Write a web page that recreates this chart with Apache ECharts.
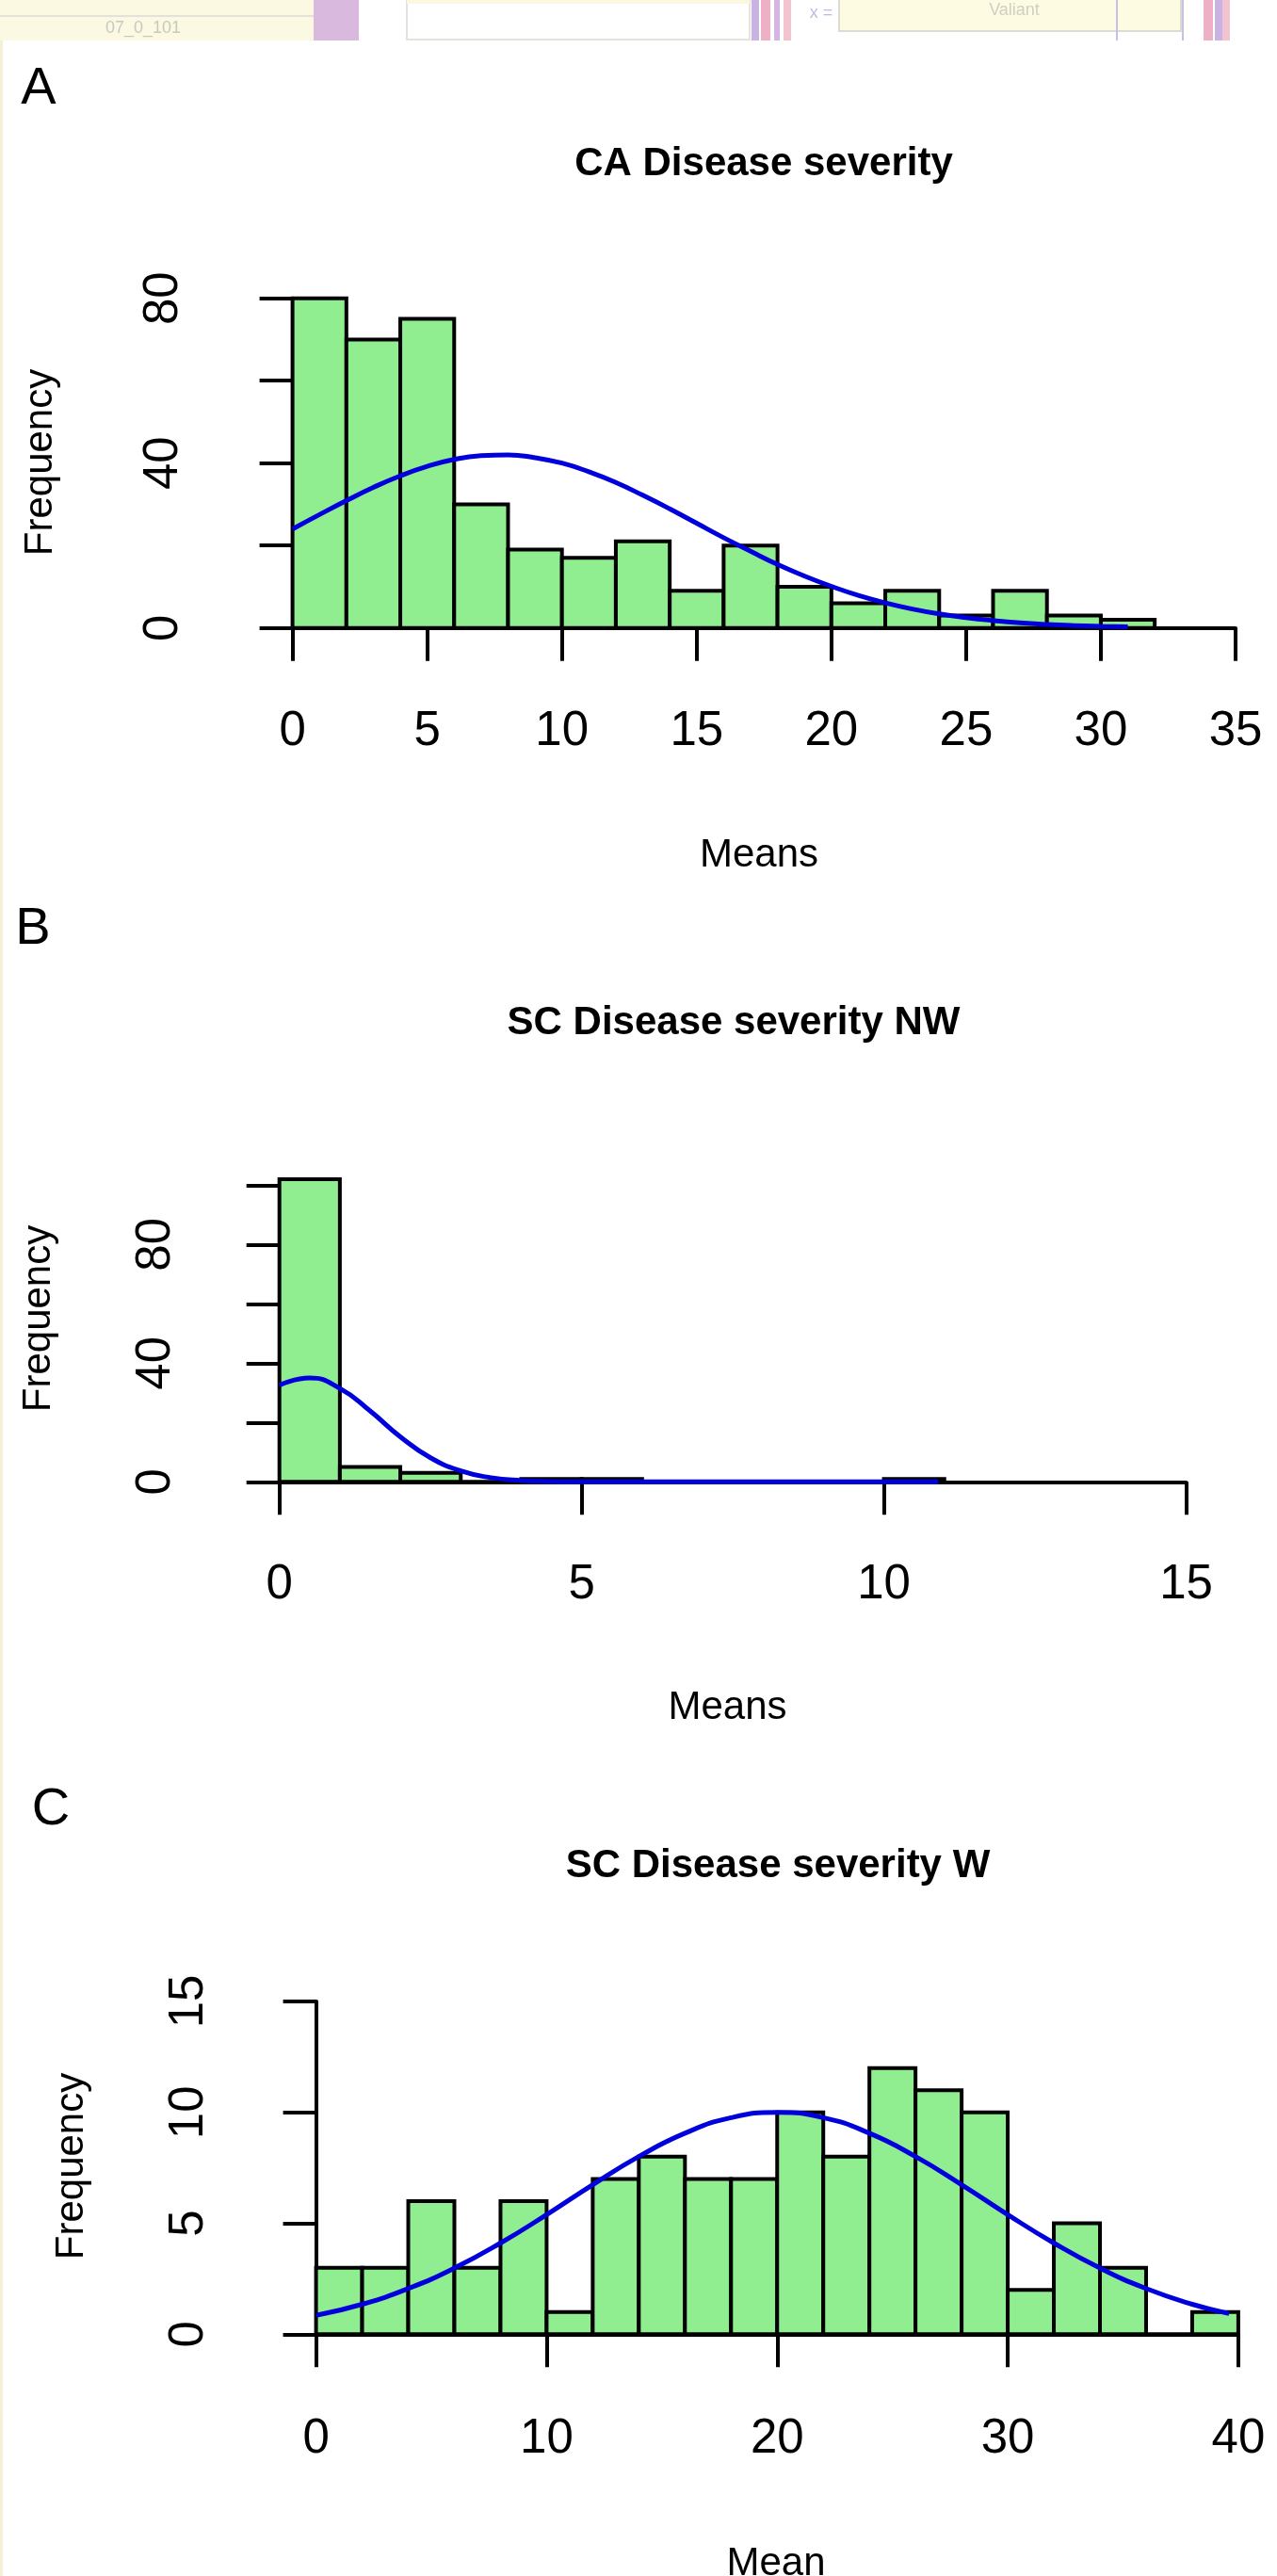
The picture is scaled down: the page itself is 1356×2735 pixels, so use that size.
<!DOCTYPE html>
<html>
<head>
<meta charset="utf-8">
<script src="https://cdn.jsdelivr.net/npm/echarts/dist/echarts.min.js"></script>
<style>
    html, body { margin: 0; padding: 0; background: #fff; }
    #chart { width: 1356px; height: 2735px; }
</style>
</head>
<body>
<div id="chart"></div>
<script>
// A: CA Disease severity
const caBins = [0, 2, 4, 6, 8, 10, 12, 14, 16, 18, 20, 22, 24, 26, 28, 30, 32];
const caCounts = [80, 70, 75, 30, 19, 17, 21, 9, 20, 10, 6, 9, 3, 9, 3, 2];
const caCurveX = [0, 1, 2, 3, 4, 5, 6, 7, 8, 9, 10, 11, 12, 13, 14, 15, 16, 17, 18, 19, 20, 21, 22, 23, 24, 25, 26, 27, 28, 29, 30, 31];
const caCurveY = [24.0, 27.5, 30.9, 34.1, 36.9, 39.2, 40.9, 41.8, 42.0, 41.3, 40.0, 37.9, 35.3, 32.2, 28.9, 25.4, 21.9, 18.6, 15.4, 12.6, 10.1, 7.9, 6.1, 4.6, 3.4, 2.5, 1.8, 1.25, 0.86, 0.58, 0.39, 0.25];

// B: SC Disease severity NW
const nwBins = [0, 1, 2, 3, 4, 5, 6, 7, 8, 9, 10, 11];
const nwCounts = [102, 5, 3, 0, 1, 1, 0, 0, 0, 0, 1];
const nwCurveX = [0, 0.5, 1, 1.5, 2, 2.5, 3, 3.5, 4, 4.5, 5, 6, 8, 10.9];
const nwCurveY = [32.6, 35, 31.5, 23.9, 15.2, 8.1, 3.7, 1.4, 0.45, 0.12, 0.03, 0, 0, 0];

// C: SC Disease severity W
const wBins = [0, 2, 4, 6, 8, 10, 12, 14, 16, 18, 20, 22, 24, 26, 28, 30, 32, 34, 36, 38, 40];
const wCounts = [3, 3, 6, 3, 6, 1, 7, 8, 7, 7, 10, 8, 12, 11, 10, 2, 5, 3, 0, 1];
const wCurveX = [0, 2, 4, 6, 8, 10, 12, 14, 16, 18, 20, 22, 24, 26, 28, 30, 32, 34, 36, 38, 39.6];
const wCurveY = [0.85, 1.35, 2.06, 2.98, 4.11, 5.39, 6.74, 8.01, 9.06, 9.76, 10, 9.76, 9.06, 8.01, 6.74, 5.39, 4.11, 2.98, 2.06, 1.35, 0.93];

const FONT = '"Liberation Sans", Arial, Helvetica, sans-serif';

let myChart = echarts.init(document.getElementById('chart'));

function toBars(bins, counts) {
    return counts.map((c, i) => [bins[i], bins[i + 1], c]);
}

function toPoints(xs, ys) {
    return xs.map((x, i) => [x, ys[i]]);
}

function histItem(params, api) {
    let topLeft = api.coord([api.value(0), api.value(2)]);
    let bottomRight = api.coord([api.value(1), 0]);
    return {
        type: 'rect',
        shape: {
            x: topLeft[0],
            y: topLeft[1],
            width: bottomRight[0] - topLeft[0],
            height: bottomRight[1] - topLeft[1]
        },
        style: {
            fill: '#90EE90',
            stroke: '#000',
            lineWidth: 4
        }
    };
}

function xAxisOf(gridIndex, max, interval, margin) {
    return {
        type: 'value',
        gridIndex,
        min: 0,
        max,
        interval,
        offset: 15,
        splitLine: { show: false },
        axisLine: { show: true, lineStyle: { color: '#000', width: 4 } },
        axisTick: { show: true, length: 35, lineStyle: { color: '#000', width: 4 } },
        axisLabel: {
            show: true,
            margin,
            color: '#000',
            fontSize: 51,
            fontFamily: FONT,
            showMinLabel: true,
            showMaxLabel: true
        }
    };
}

function yAxisOf(gridIndex, max, interval, margin, offset, every) {
    return {
        type: 'value',
        gridIndex,
        min: 0,
        max,
        interval,
        offset,
        splitLine: { show: false },
        axisLine: { show: true, lineStyle: { color: '#000', width: 4 } },
        axisTick: { show: true, length: 35, lineStyle: { color: '#000', width: 4 } },
        axisLabel: {
            show: true,
            rotate: 90,
            margin,
            color: '#000',
            fontSize: 51,
            fontFamily: FONT,
            showMinLabel: true,
            showMaxLabel: true,
            formatter: v => (v % every === 0 ? String(v) : '')
        }
    };
}

function histSeries(idx, bins, counts) {
    return {
        type: 'custom',
        xAxisIndex: idx,
        yAxisIndex: idx,
        clip: false,
        silent: true,
        renderItem: histItem,
        encode: { x: [0, 1], y: 2 },
        data: toBars(bins, counts),
        z: 2
    };
}

function curveSeries(idx, xs, ys) {
    return {
        type: 'line',
        xAxisIndex: idx,
        yAxisIndex: idx,
        data: toPoints(xs, ys),
        smooth: true,
        showSymbol: false,
        silent: true,
        clip: false,
        lineStyle: { color: '#0000DD', width: 5 },
        z: 5
    };
}

function label(text, x, y, size, bold, rotation) {
    return {
        type: 'text',
        x,
        y,
        rotation: rotation || 0,
        silent: true,
        style: {
            text,
            fill: '#000',
            font: (bold ? 'bold ' : '') + size + 'px ' + FONT,
            textAlign: 'center',
            textVerticalAlign: 'middle'
        }
    };
}

// the strip of another figure cut in at the top edge
function stripBits() {
    return [
        { type: 'rect', shape: { x: 0, y: 0, width: 3, height: 2735 }, style: { fill: '#F4F1D6' } },
        { type: 'rect', shape: { x: 0, y: 0, width: 333, height: 43 }, style: { fill: '#FCF9E2' } },
        { type: 'rect', shape: { x: 0, y: 16, width: 333, height: 2 }, style: { fill: '#E2E2DA' } },
        { type: 'text', x: 152, y: 30, style: { text: '07_0_101', fill: '#C8C8C0', font: '18px ' + FONT, textAlign: 'center', textVerticalAlign: 'middle' } },
        { type: 'rect', shape: { x: 333, y: 0, width: 48, height: 43 }, style: { fill: '#D9B9DD' } },
        { type: 'rect', shape: { x: 432, y: -2, width: 364, height: 44 }, style: { fill: '#FFFFFF', stroke: '#E4E4DC', lineWidth: 2 } },
        { type: 'rect', shape: { x: 432, y: 0, width: 364, height: 4 }, style: { fill: '#FBF8E0' } },
        { type: 'rect', shape: { x: 798, y: 0, width: 8, height: 43 }, style: { fill: '#C9B3E3' } },
        { type: 'rect', shape: { x: 808, y: 0, width: 10, height: 43 }, style: { fill: '#EDB0C4' } },
        { type: 'rect', shape: { x: 822, y: 0, width: 6, height: 43 }, style: { fill: '#D4B6E4' } },
        { type: 'rect', shape: { x: 832, y: 0, width: 8, height: 43 }, style: { fill: '#F2C4D0' } },
        { type: 'text', x: 872, y: 14, style: { text: 'x =', fill: '#C8B8E0', font: '18px ' + FONT, textAlign: 'center', textVerticalAlign: 'middle' } },
        { type: 'rect', shape: { x: 891, y: -2, width: 363, height: 35 }, style: { fill: '#FDFBE2', stroke: '#DCDCD4', lineWidth: 2 } },
        { type: 'text', x: 1077, y: 11, style: { text: 'Valiant', fill: '#CFCFC4', font: '18px ' + FONT, textAlign: 'center', textVerticalAlign: 'middle' } },
        { type: 'rect', shape: { x: 1185, y: 0, width: 2, height: 43 }, style: { fill: '#C8C0E4' } },
        { type: 'rect', shape: { x: 1255, y: 0, width: 2, height: 43 }, style: { fill: '#C8C0E4' } },
        { type: 'rect', shape: { x: 1278, y: 0, width: 10, height: 43 }, style: { fill: '#EDB0C4' } },
        { type: 'rect', shape: { x: 1290, y: 0, width: 8, height: 43 }, style: { fill: '#C9B3E3' } },
        { type: 'rect', shape: { x: 1298, y: 0, width: 8, height: 43 }, style: { fill: '#F2C4D0' } }
    ];
}

let option = {
    backgroundColor: '#fff',
    animation: false,
    grid: [
        { left: 310.6, top: 316.7, width: 1001.4, height: 350, outerBoundsMode: 'none' },
        { left: 296.7, top: 1258.3, width: 962.8, height: 315, outerBoundsMode: 'none' },
        { left: 335.6, top: 2125, width: 979.3, height: 353.3, outerBoundsMode: 'none' }
    ],
    xAxis: [
        xAxisOf(0, 35, 5, 70),
        xAxisOf(1, 15, 5, 69),
        xAxisOf(2, 40, 10, 71)
    ],
    yAxis: [
        yAxisOf(0, 80, 20, 71, 40, 40),
        yAxisOf(1, 100, 20, 67, 38.7, 40),
        yAxisOf(2, 15, 5, 70, 38.9, 5)
    ],
    series: [
        histSeries(0, caBins, caCounts),
        curveSeries(0, caCurveX, caCurveY),
        histSeries(1, nwBins, nwCounts),
        curveSeries(1, nwCurveX, nwCurveY),
        histSeries(2, wBins, wCounts),
        curveSeries(2, wCurveX, wCurveY)
    ],
    graphic: stripBits().concat([
        label('A', 41, 95, 56, false),
        label('B', 35, 987, 56, false),
        label('C', 54, 1922, 56, false),
        label('CA Disease severity', 811, 174, 42, true),
        label('SC Disease severity NW', 779, 1086, 42, true),
        label('SC Disease severity W', 826, 1981, 42, true),
        label('Means', 806, 908, 42, false),
        label('Means', 772.5, 1813, 42, false),
        label('Mean', 824, 2722, 42, false),
        label('Frequency', 43, 491, 42, false, Math.PI / 2),
        label('Frequency', 41.5, 1400, 42, false, Math.PI / 2),
        label('Frequency', 76, 2300, 42, false, Math.PI / 2)
    ])
};

myChart.setOption(option);
</script>
</body>
</html>
